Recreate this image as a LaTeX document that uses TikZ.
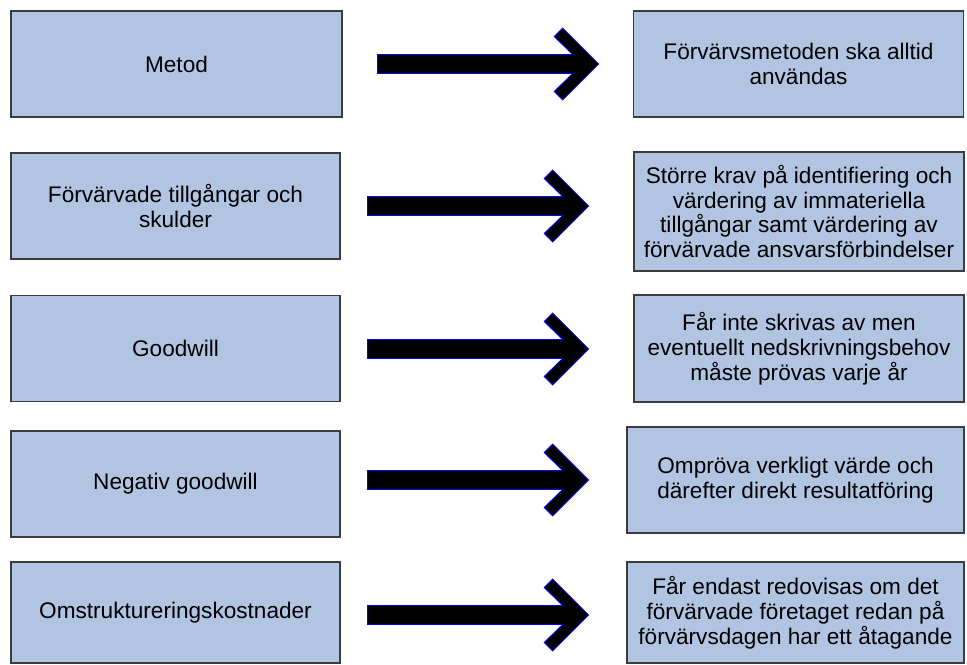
\documentclass[tikz,border=0pt]{standalone}
\usepackage{fontspec}
\setmainfont{Liberation Sans}
\usetikzlibrary{positioning}
\definecolor{boxblue}{RGB}{177,197,227}
\definecolor{boxline}{RGB}{60,60,60}

\tikzset{
    box/.style={draw=boxline, line width=0.6pt, fill=boxblue, align=center, inner sep=0pt,
        font=\fontsize{11.3}{12.4}\selectfont},
    leftbox/.style={box, minimum width=164.5pt, minimum height=53pt},
    rightbox/.style={box, minimum width=165pt},
    fatarrow/.pic={
        \filldraw[fill=black, draw=blue, line width=0.4pt]
            (-221,-9.5) -- (-26,-9.5) -- (-44.5,-27.5) -- (-36,-36) -- (0,0)
            -- (-36,36) -- (-44.5,27.5) -- (-26,9.5) -- (-221,9.5) -- cycle;
    }
}

\begin{document}
\begin{tikzpicture}[x=0.5pt, y=-0.5pt]
                \useasboundingbox (0,0) rectangle (967,664);
                % left column
                \node[leftbox, minimum width=165.5pt] (metod) at (176.5,64) {Metod};
                \node[leftbox] (tillg) at (175.5,206) {Förvärvade tillgångar och\\skulder};
                \node[leftbox] (gw) at (175.5,348.5) {Goodwill};
                \node[leftbox] (neggw) at (175.5,484) {Negativ goodwill};
                \node[leftbox, minimum height=50.5pt] (omstr) at (175.5,612.5) {Omstruktureringskostnader};
                % right column
                \node[rightbox, minimum height=53pt] (metodR) at (798.5,64) {Förvärvsmetoden ska alltid\\användas};
                \node[rightbox, minimum height=59.5pt] (tillgR) at (799,211.5) {Större krav på identifiering och\\värdering av immateriella\\tillgångar samt värdering av\\förvärvade ansvarsförbindelser};
                \node[rightbox, minimum height=53.5pt] (gwR) at (799,348.5) {Får inte skrivas av men\\eventuellt nedskrivningsbehov\\måste prövas varje år};
                \node[rightbox, minimum width=168.5pt, minimum height=53pt] (neggwR) at (795.5,480) {Ompröva verkligt värde och\\därefter direkt resultatföring};
                \node[rightbox, minimum width=168.5pt, minimum height=50.5pt] (omstrR) at (795.5,612.5) {Får endast redovisas om det\\förvärvade företaget redan på\\förvärvsdagen har ett åtagande};
                % arrows
                \path (metod.east) ++(256,0) pic {fatarrow};
                \path (tillg.east) ++(248,0) pic {fatarrow};
                \path (gw.east) ++(248,0.5) pic {fatarrow};
                \path (neggw.east) ++(248,-4) pic {fatarrow};
                \path (omstr.east) ++(248,2.5) pic {fatarrow};
            \end{tikzpicture}
\end{document}
